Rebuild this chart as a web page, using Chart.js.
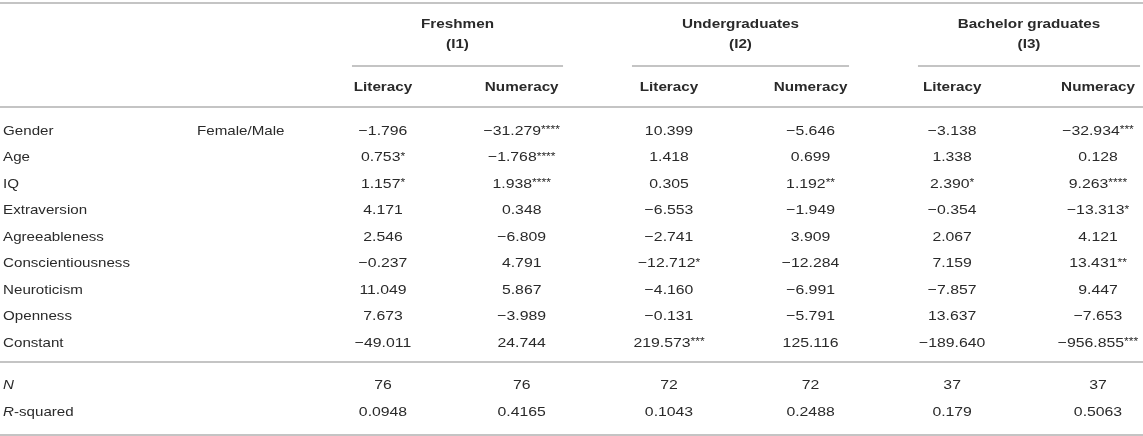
<!DOCTYPE html>
<html>
<head>
<meta charset="utf-8">
<script src="https://cdn.jsdelivr.net/npm/chart.js@4"></script>
<style>
  html, body { margin: 0; padding: 0; background: #fff; }
  canvas { display: block; }
</style>
</head>
<body>
<canvas id="table" width="1143" height="436"></canvas>
<script>
// ===== DATA =====
const rowLabels = ["Gender", "Age", "IQ", "Extraversion", "Agreeableness",
  "Conscientiousness", "Neuroticism", "Openness", "Constant"];
const subLabels = ["Female/Male", "", "", "", "", "", "", "", ""];
const groups = ["Freshmen", "Undergraduates", "Bachelor graduates"];
const groupCodes = ["(I1)", "(I2)", "(I3)"];
const outcomes = ["Literacy", "Numeracy"];

const freshmenLiteracy = [-1.796, 0.753, 1.157, 4.171, 2.546, -0.237, 11.049, 7.673, -49.011];
const freshmenNumeracy = [-31.279, -1.768, 1.938, 0.348, -6.809, 4.791, 5.867, -3.989, 24.744];
const undergradLiteracy = [10.399, 1.418, 0.305, -6.553, -2.741, -12.712, -4.160, -0.131, 219.573];
const undergradNumeracy = [-5.646, 0.699, 1.192, -1.949, 3.909, -12.284, -6.991, -5.791, 125.116];
const bachelorLiteracy = [-3.138, 1.338, 2.390, -0.354, 2.067, 7.159, -7.857, 13.637, -189.640];
const bachelorNumeracy = [-32.934, 0.128, 9.263, -13.313, 4.121, 13.431, 9.447, -7.653, -956.855];

const freshmenLiteracyStars = ["", "*", "*", "", "", "", "", "", ""];
const freshmenNumeracyStars = ["****", "****", "****", "", "", "", "", "", ""];
const undergradLiteracyStars = ["", "", "", "", "", "*", "", "", "***"];
const undergradNumeracyStars = ["", "", "**", "", "", "", "", "", ""];
const bachelorLiteracyStars = ["", "", "*", "", "", "", "", "", ""];
const bachelorNumeracyStars = ["***", "", "****", "*", "", "**", "", "", "***"];

const sampleSize = [76, 76, 72, 72, 37, 37];
const rSquared = [0.0948, 0.4165, 0.1043, 0.2488, 0.179, 0.5063];

const columns = [
  [freshmenLiteracy, freshmenLiteracyStars],
  [freshmenNumeracy, freshmenNumeracyStars],
  [undergradLiteracy, undergradLiteracyStars],
  [undergradNumeracy, undergradNumeracyStars],
  [bachelorLiteracy, bachelorLiteracyStars],
  [bachelorNumeracy, bachelorNumeracyStars]
];

// ===== LAYOUT (column / row units) =====
const colX = [0, 0.97, 2, 2.99, 3.98, 5];
const nRow = 9.6, rRow = 10.6;
const FONT = '"Liberation Sans", Arial, Helvetica, sans-serif';
const SIZE = 13.5;
const LABEL_K = 1.12, VALUE_K = 1.17, HEAD_K = 1.13;   // the table is drawn a bit wide
const LINE = "#c4c4c4";
const INK = "#2a2a2a";

function fmt(v) {
  return (v < 0 ? "\u2212" : "") + Math.abs(v).toFixed(3);
}

// text stretched horizontally around its anchor, baseline set from the row centre
function drawText(ctx, text, x, cy, font, align, k) {
  ctx.save();
  ctx.font = font;
  ctx.textAlign = align;
  ctx.textBaseline = "alphabetic";
  ctx.fillStyle = INK;
  ctx.translate(x, cy + SIZE * 0.36);
  ctx.scale(k, 1);
  ctx.fillText(text, 0, 0);
  const w = ctx.measureText(text).width * k;
  ctx.restore();
  return w;
}

function textWidth(ctx, text, font, k) {
  ctx.save();
  ctx.font = font;
  const w = ctx.measureText(text).width * k;
  ctx.restore();
  return w;
}

const datasets = columns.map(([vals, stars], c) => {
  const data = vals.map((v, i) => ({ x: colX[c], y: i }));
  data.push({ x: colX[c], y: nRow }, { x: colX[c], y: rRow });
  const text = vals.map(fmt).concat([String(sampleSize[c]), String(rSquared[c])]);
  const sup = stars.concat(["", ""]);
  return { data, text, sup, pointRadius: 0, showLine: false };
});

function hline(ctx, chart, x0, x1, y) {
  const sx = chart.scales.x, sy = chart.scales.y;
  const py = Math.round(sy.getPixelForValue(y));
  ctx.save();
  ctx.strokeStyle = LINE;
  ctx.lineWidth = 2;
  ctx.beginPath();
  ctx.moveTo(sx.getPixelForValue(x0), py);
  ctx.lineTo(sx.getPixelForValue(x1), py);
  ctx.stroke();
  ctx.restore();
}

function cell(ctx, cx, cy, text, stars) {
  const body = SIZE + "px " + FONT;
  const small = "10.5px " + FONT;
  const w = textWidth(ctx, text, body, VALUE_K);
  const ws = stars ? textWidth(ctx, stars, small, 1.15) : 0;
  const x0 = cx - (w + ws) / 2;
  drawText(ctx, text, x0, cy, body, "left", VALUE_K);
  if (stars) drawText(ctx, stars, x0 + w, cy - 1.5, small, "left", 1.15);
}

const tablePlugin = {
  id: "tablePlugin",
  afterDatasetsDraw(chart) {
    const ctx = chart.ctx;
    const sx = chart.scales.x, sy = chart.scales.y;
    const xMin = sx.min, xMax = sx.max;

    // rules
    hline(ctx, chart, xMin, xMax, -4.79);
    hline(ctx, chart, xMin, xMax, -0.87);
    hline(ctx, chart, xMin, xMax, 8.75);
    hline(ctx, chart, xMin, xMax, 11.5);
    const spans = [[-0.217, 1.259], [1.741, 3.259], [3.741, 5.294]];
    spans.forEach(s => hline(ctx, chart, s[0], s[1], -2.42));

    // column headers
    const bold = "bold " + SIZE + "px " + FONT;
    groups.forEach((g, k) => {
      const cx = sx.getPixelForValue((spans[k][0] + spans[k][1]) / 2);
      drawText(ctx, g, cx, sy.getPixelForValue(-4.04), bold, "center", HEAD_K);
      drawText(ctx, groupCodes[k], cx, sy.getPixelForValue(-3.28), bold, "center", HEAD_K);
    });
    colX.forEach((x, c) => {
      drawText(ctx, outcomes[c % 2], sx.getPixelForValue(x), sy.getPixelForValue(-1.66), bold, "center", HEAD_K);
    });

    // row labels
    const body = SIZE + "px " + FONT;
    const ital = "italic " + SIZE + "px " + FONT;
    const labelX = sx.getPixelForValue(-2.657);
    const subX = sx.getPixelForValue(-1.30);
    rowLabels.forEach((r, i) => {
      drawText(ctx, r, labelX, sy.getPixelForValue(i), body, "left", LABEL_K);
      if (subLabels[i]) drawText(ctx, subLabels[i], subX, sy.getPixelForValue(i), body, "left", LABEL_K);
    });
    drawText(ctx, "N", labelX, sy.getPixelForValue(nRow), ital, "left", LABEL_K);
    const rW = drawText(ctx, "R", labelX, sy.getPixelForValue(rRow), ital, "left", LABEL_K);
    drawText(ctx, "-squared", labelX + rW, sy.getPixelForValue(rRow), body, "left", LABEL_K);

    // cells, placed by the library through the dataset points
    chart.data.datasets.forEach((ds, di) => {
      chart.getDatasetMeta(di).data.forEach((pt, i) => {
        cell(ctx, pt.x, pt.y, ds.text[i], ds.sup[i]);
      });
    });
  }
};

new Chart(document.getElementById("table"), {
  type: "scatter",
  data: { datasets },
  plugins: [tablePlugin],
  options: {
    responsive: false,
    animation: false,
    layout: { padding: 0 },
    plugins: { legend: { display: false }, tooltip: { enabled: false } },
    scales: {
      x: { type: "linear", display: false, min: -383 / 143, max: 760 / 143 },
      y: { type: "linear", display: false, reverse: true, min: -130 / 26.5, max: 306 / 26.5 }
    }
  }
});
</script>
</body>
</html>
